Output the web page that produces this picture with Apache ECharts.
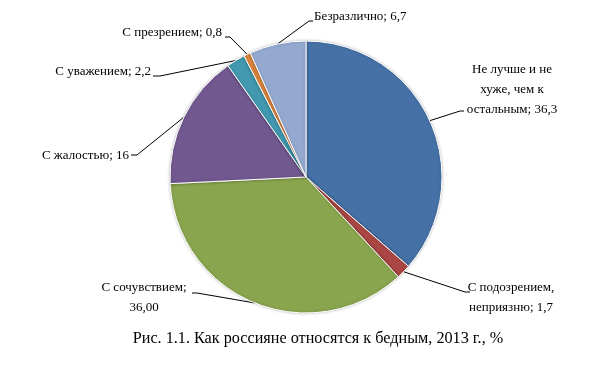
<!DOCTYPE html>
<html><head><meta charset="utf-8">
<script src="https://cdn.jsdelivr.net/npm/echarts@6/dist/echarts.min.js"></script>
<style>html,body{margin:0;padding:0;background:#fff}#c{width:601px;height:366px}</style>
</head><body><div id="c"></div>
<script>
const categories = ['Не лучше и не\nхуже, чем к\nостальным', 'С подозрением,\nнеприязню', 'С сочувствием;\n', 'С жалостью', 'С уважением', 'С презрением', 'Безразлично'];
const values = [36.3, 1.7, 36.0, 16, 2.2, 0.8, 6.7];
const valueLabels = ['36,3', '1,7', '36,00', '16', '2,2', '0,8', '6,7'];
const colors = ['#4671A6', '#AA4643', '#89A54E', '#71588F', '#4198AF', '#DB843D', '#93A9CF'];
const caption = 'Рис. 1.1. Как россияне относятся к бедным, 2013 г., %';
// label anchor layout and leader-line elbows (style only)
const labelPos = [
  {x: 512, y: 90, align: 'center', elbow: [[460, 111], [464, 111]]},
  {x: 511, y: 298, align: 'center', elbow: [[465, 292], [470, 292]]},
  {x: 144, y: 298, align: 'center', elbow: [[197, 293], [192, 293]]},
  {x: 129, y: 156, align: 'right', elbow: [[137, 155], [131, 155]]},
  {x: 151, y: 72, align: 'right', elbow: [[160, 76], [153, 76]]},
  {x: 222, y: 33, align: 'right', elbow: [[230, 37], [225, 37]]},
  {x: 314, y: 17, align: 'left', elbow: [[309, 21], [313, 21]]}
];
const chart = echarts.init(document.getElementById('c'), null, {renderer: 'canvas'});
chart.setOption({
  animation: false,
  color: colors,
  graphic: [{type: 'text', x: 318, y: 339, style: {text: caption, font: '16.2px "Liberation Serif"', fill: '#000', textAlign: 'center', textVerticalAlign: 'middle'}}],
  series: [{
    type: 'pie',
    center: [306, 177],
    radius: [0, 136],
    startAngle: 90,
    clockwise: true,
    itemStyle: {borderColor: '#fff', borderWidth: 1, shadowBlur: 3, shadowColor: 'rgba(0,0,0,0.25)'},
    data: categories.map((c, i) => ({name: c, value: values[i]})),
    label: {
      show: true,
      color: '#000',
      fontFamily: 'Liberation Serif',
      fontSize: 13,
      lineHeight: 20,
      formatter: p => {
        const i = p.dataIndex;
        const n = categories[i];
        return n.endsWith('\n') ? n + valueLabels[i] : n + '; ' + valueLabels[i];
      }
    },
    labelLine: {show: true, lineStyle: {color: '#000', width: 1}, length: 10, length2: 10},
    labelLayout: p => {
      const lp = labelPos[p.dataIndex];
      const res = {x: lp.x, y: lp.y, align: lp.align, verticalAlign: 'middle'};
      if (p.labelLinePoints && p.labelLinePoints.length) {
        res.labelLinePoints = [p.labelLinePoints[0], lp.elbow[0], lp.elbow[1]];
      }
      return res;
    },
    emphasis: {disabled: true}
  }]
});
</script></body></html>
